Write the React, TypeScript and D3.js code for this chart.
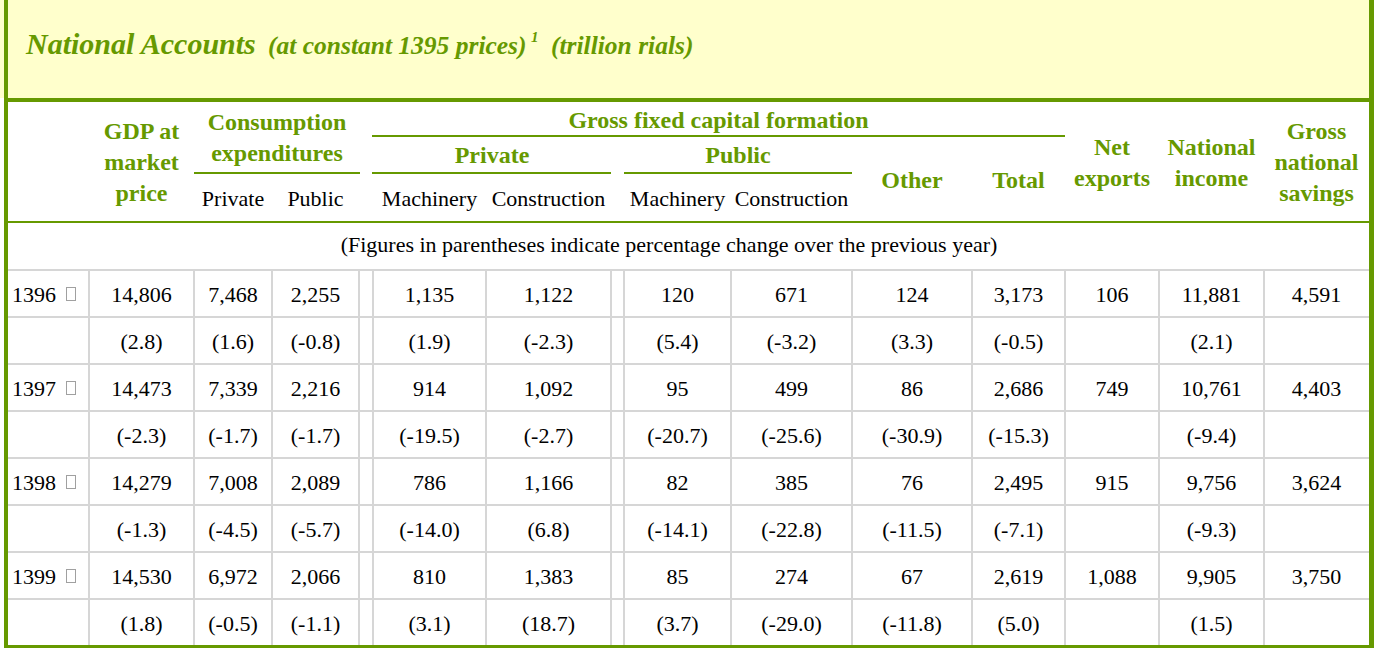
import React from 'react';
import * as d3 from 'd3';

// ---------- data ----------
const years = ['1396', '1397', '1398', '1399'];
const gdpValues = [14806, 14473, 14279, 14530];
const gdpPct = [2.8, -2.3, -1.3, 1.8];
const privateConsumption = [7468, 7339, 7008, 6972];
const privateConsumptionPct = [1.6, -1.7, -4.5, -0.5];
const publicConsumption = [2255, 2216, 2089, 2066];
const publicConsumptionPct = [-0.8, -1.7, -5.7, -1.1];
const privateMachinery = [1135, 914, 786, 810];
const privateMachineryPct = [1.9, -19.5, -14.0, 3.1];
const privateConstruction = [1122, 1092, 1166, 1383];
const privateConstructionPct = [-2.3, -2.7, 6.8, 18.7];
const publicMachinery = [120, 95, 82, 85];
const publicMachineryPct = [5.4, -20.7, -14.1, 3.7];
const publicConstruction = [671, 499, 385, 274];
const publicConstructionPct = [-3.2, -25.6, -22.8, -29.0];
const otherValues = [124, 86, 76, 67];
const otherPct = [3.3, -30.9, -11.5, -11.8];
const totalValues = [3173, 2686, 2495, 2619];
const totalPct = [-0.5, -15.3, -7.1, 5.0];
const netExports = [106, 749, 915, 1088];
const nationalIncome = [11881, 10761, 9756, 9905];
const nationalIncomePct = [2.1, -9.4, -9.3, 1.5];
const grossNationalSavings = [4591, 4403, 3624, 3750];

const series: { values: number[]; pct: number[] | null }[] = [
  { values: gdpValues, pct: gdpPct },
  { values: privateConsumption, pct: privateConsumptionPct },
  { values: publicConsumption, pct: publicConsumptionPct },
  { values: privateMachinery, pct: privateMachineryPct },
  { values: privateConstruction, pct: privateConstructionPct },
  { values: publicMachinery, pct: publicMachineryPct },
  { values: publicConstruction, pct: publicConstructionPct },
  { values: otherValues, pct: otherPct },
  { values: totalValues, pct: totalPct },
  { values: netExports, pct: null },
  { values: nationalIncome, pct: nationalIncomePct },
  { values: grossNationalSavings, pct: null },
];

// ---------- layout ----------
const W = 1374;
const H = 648;
const GREEN = '#669900';
const TITLE_BG = '#FFFFCC';
const GRID = '#d6d6d6';
const SERIF = '"Liberation Serif", "Times New Roman", Times, serif';

const colEdges = [8, 89, 194, 272, 359, 373, 486, 611, 624, 731, 852, 972, 1065, 1159, 1264, 1369];
const dataColIdx = [1, 2, 3, 5, 6, 8, 9, 10, 11, 12, 13, 14];
const colCenter = (j: number) => (colEdges[j] + colEdges[j + 1]) / 2;

const rowScale = d3.scaleLinear().domain([0, 8]).range([270, 646]);
const locale = d3.formatLocale({
  decimal: '.',
  thousands: ',',
  grouping: [3],
  currency: ['', ''],
  minus: '-',
});
const fmtVal = locale.format(',');
const fmtPct = locale.format('.1f');

const HEAD = 24;
const BODY = 22;

type HeadLabel = { lines: string[]; x: number; y: number };
const headLabels: HeadLabel[] = [
  { lines: ['GDP at', 'market', 'price'], x: colCenter(1), y: 139 },
  { lines: ['Consumption', 'expenditures'], x: (194 + 360) / 2, y: 130 },
  { lines: ['Gross fixed capital formation'], x: (372 + 1065) / 2, y: 128 },
  { lines: ['Private'], x: (373 + 611) / 2, y: 163 },
  { lines: ['Public'], x: (624 + 852) / 2, y: 163 },
  { lines: ['Other'], x: colCenter(10), y: 188 },
  { lines: ['Total'], x: colCenter(11), y: 188 },
  { lines: ['Net', 'exports'], x: colCenter(12), y: 155 },
  { lines: ['National', 'income'], x: colCenter(13), y: 155 },
  { lines: ['Gross', 'national', 'savings'], x: colCenter(14), y: 139 },
];

const subLabels = [
  { t: 'Private', j: 2 },
  { t: 'Public', j: 3 },
  { t: 'Machinery', j: 5 },
  { t: 'Construction', j: 6 },
  { t: 'Machinery', j: 8 },
  { t: 'Construction', j: 9 },
];

const headLines = [
  { x1: 372, x2: 1065, y: 136 },
  { x1: 194, x2: 360, y: 173 },
  { x1: 372, x2: 611, y: 173 },
  { x1: 624, x2: 852, y: 173 },
];

export default function App() {
  const gridXs = colEdges.slice(1, -1);
  return (
    <svg
      width={W}
      height={H}
      viewBox={`0 0 ${W} ${H}`}
      style={{ position: 'absolute', left: 0, top: 0, background: '#fff' }}
      fontFamily={SERIF}
    >
      {/* title band */}
      <rect x={0} y={0} width={W} height={98} fill={TITLE_BG} />
      <text y={54} fill={GREEN} fontWeight="bold" fontStyle="italic">
        <tspan x={26} fontSize={30}>National Accounts</tspan>
        <tspan x={268} fontSize={25.5}>(at constant 1395 prices)</tspan>
        <tspan x={531} y={42} fontSize={15}>1</tspan>
        <tspan x={551} y={54} fontSize={25.5}>(trillion rials)</tspan>
      </text>

      {/* header labels */}
      {headLabels.map((h, i) => (
        <text key={'h' + i} x={h.x} y={h.y} textAnchor="middle" fill={GREEN} fontWeight="bold" fontSize={HEAD}>
          {h.lines.map((l, k) => (
            <tspan key={k} x={h.x} y={h.y + k * 31}>
              {l}
            </tspan>
          ))}
        </text>
      ))}
      {subLabels.map((s, i) => (
        <text key={'s' + i} x={colCenter(s.j)} y={206} textAnchor="middle" fontSize={BODY} fill="#000">
          {s.t}
        </text>
      ))}
      {headLines.map((l, i) => (
        <line key={'l' + i} x1={l.x1} x2={l.x2} y1={l.y} y2={l.y} stroke={GREEN} strokeWidth={2} />
      ))}
      <line x1={8} x2={1369} y1={222} y2={222} stroke={GREEN} strokeWidth={2} />

      <text x={669} y={252} textAnchor="middle" fontSize={BODY} fill="#000">
        (Figures in parentheses indicate percentage change over the previous year)
      </text>

      {/* grid */}
      {d3.range(0, 8).map((r) => (
        <line key={'hr' + r} x1={8} x2={1369} y1={rowScale(r)} y2={rowScale(r)} stroke={GRID} strokeWidth={2} />
      ))}
      {gridXs.map((x, i) => (
        <line key={'vr' + i} x1={x} x2={x} y1={rowScale(0)} y2={rowScale(8)} stroke={GRID} strokeWidth={2} />
      ))}

      {/* body */}
      {years.map((yr, yi) => {
        const yVal = rowScale(yi * 2) + 32;
        const yPct = rowScale(yi * 2 + 1) + 32;
        return (
          <g key={yr}>
            <text x={12} y={yVal} fontSize={BODY} fill="#000">
              {yr}
            </text>
            <rect x={66.5} y={yVal - 14.5} width={9} height={13} fill="none" stroke="#a0a0a0" strokeWidth={1} />
            {series.map((s, si) => {
              const cx = colCenter(dataColIdx[si]);
              return (
                <g key={si}>
                  <text x={cx} y={yVal} textAnchor="middle" fontSize={BODY} fill="#000">
                    {fmtVal(s.values[yi])}
                  </text>
                  {s.pct && (
                    <text x={cx} y={yPct} textAnchor="middle" fontSize={BODY} fill="#000">
                      {'(' + fmtPct(s.pct[yi]) + ')'}
                    </text>
                  )}
                </g>
              );
            })}
          </g>
        );
      })}

      {/* frame */}
      <rect x={4} y={0} width={4} height={H} fill={GREEN} />
      <rect x={1369} y={0} width={5} height={H} fill={GREEN} />
      <rect x={4} y={98} width={1370} height={4} fill={GREEN} />
      <rect x={4} y={645} width={1370} height={3} fill={GREEN} />
    </svg>
  );
}
